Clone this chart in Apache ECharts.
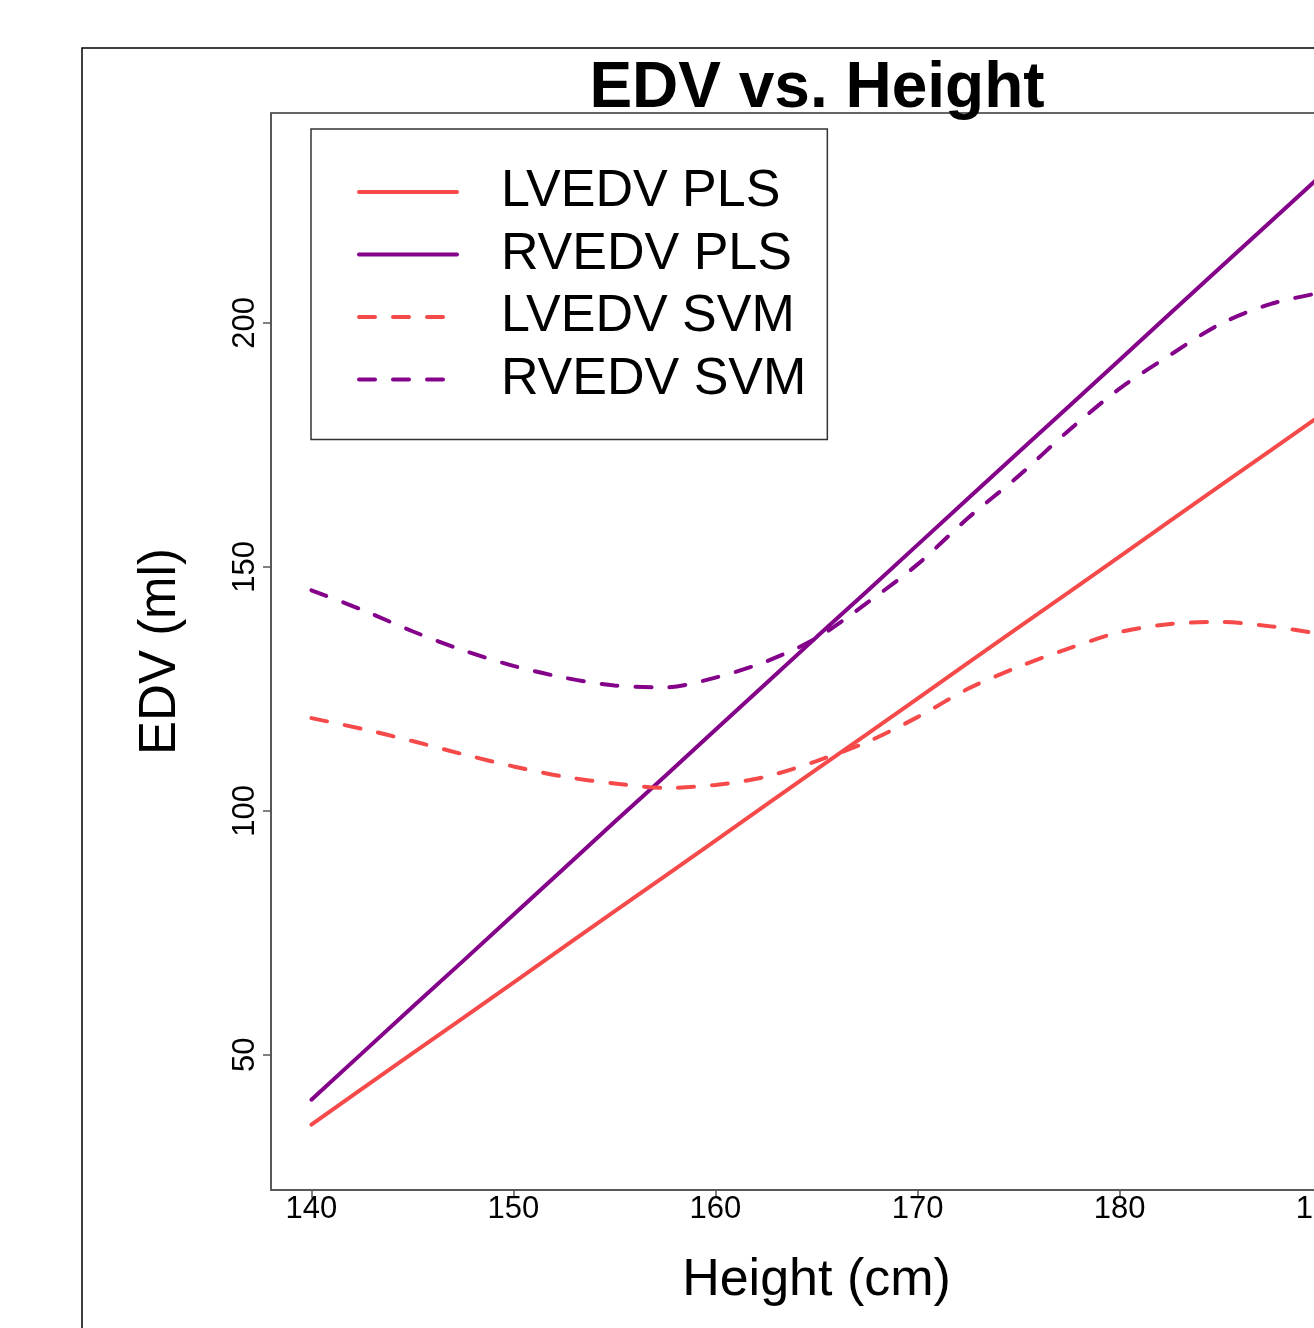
<!DOCTYPE html>
<html>
<head>
<meta charset="utf-8">
<script src="https://cdn.jsdelivr.net/npm/echarts@6/dist/echarts.min.js"></script>
<style>
  html, body { margin: 0; padding: 0; overflow: hidden; background: #fff; }
  #chart { width: 1634px; height: 1328px; }
</style>
</head>
<body>
<div id="chart"></div>
<script>
// 身高 (cm)
const heights = [140, 142.5, 145, 147.5, 150, 152.5, 155, 157.5, 160, 162.5, 165,
                 167.5, 170, 172.5, 175, 177.5, 180, 182.5, 185, 187.5, 190];

const lvedvPls = [35.7, 43.0, 50.3, 57.5, 64.8, 72.1, 79.4, 86.6, 93.9, 101.2, 108.5,
                  115.7, 123.0, 130.3, 137.6, 144.8, 152.1, 159.4, 166.7, 173.9, 181.2];
const rvedvPls = [40.8, 50.3, 59.8, 69.2, 78.7, 88.2, 97.7, 107.1, 116.6, 126.1, 135.6,
                  145.0, 154.5, 164.0, 173.5, 182.9, 192.4, 201.9, 211.4, 220.8, 230.3];
const lvedvSvm = [119.0, 116.8, 114.3, 111.6, 109.1, 107.0, 105.6, 104.7, 105.3, 107.0, 110.2,
                  114.1, 119.2, 125.0, 129.5, 133.3, 136.6, 138.3, 138.7, 137.8, 136.2];
const rvedvSvm = [145.2, 141.2, 136.8, 132.9, 129.7, 127.3, 125.7, 125.3, 127.3, 130.6, 135.4,
                  142.6, 150.5, 160.0, 168.6, 178.0, 186.5, 193.4, 199.8, 203.9, 206.2];

const xTicks = [140, 150, 160, 170, 180, 190];
const yTicks = [50, 100, 150, 200];

const RED = '#F64A4A';
const PURPLE = '#84028A';
const FONT = 'Liberation Sans';

const pairs = (ys) => heights.map((h, i) => [h, ys[i]]);

const makeSeries = (name, ys, color, dashed) => ({
    name,
    type: 'line',
    data: pairs(ys),
    symbol: 'none',
    smooth: dashed ? 0.3 : false,
    lineStyle: {
        color,
        width: 4,
        type: dashed ? [16, 18] : 'solid',
        cap: 'round'
    },
    itemStyle: { color },
    emphasis: { disabled: true }
});

const chart = echarts.init(document.getElementById('chart'), null, { renderer: 'canvas' });

chart.setOption({
    backgroundColor: '#fff',
    animation: false,
    title: {
        text: 'EDV vs. Height',
        left: 'center',
        top: 57,
        padding: 0,
        textStyle: { fontFamily: FONT, fontWeight: 'bold', fontSize: 64, color: '#000' }
    },
    // 外框
    graphic: [{
        type: 'rect',
        shape: { x: 82, y: 48, width: 1470, height: 1400 },
        style: { fill: 'none', stroke: '#000', lineWidth: 1.5 },
        silent: true
    }],
    legend: {
        orient: 'vertical',
        left: 311,
        top: 129,
        padding: [37, 21, 34, 46],
        itemWidth: 98,
        itemHeight: 50,
        itemGap: 10.5,
        borderColor: '#333',
        borderWidth: 1.5,
        itemStyle: { opacity: 0 },
        lineStyle: { width: 4 },
        textStyle: {
            fontFamily: FONT,
            fontSize: 52,
            color: '#000',
            lineHeight: 50,
            padding: [0, 0, 0, 39]
        },
        data: ['LVEDV PLS', 'RVEDV PLS', 'LVEDV SVM', 'RVEDV SVM']
    },
    grid: {
        left: 271,
        right: 272,
        top: 113,
        bottom: 138,
        show: true,
        borderColor: '#333',
        borderWidth: 1.5
    },
    xAxis: {
        type: 'value',
        min: 138,
        max: 192,
        name: 'Height (cm)',
        nameLocation: 'middle',
        nameGap: 65,
        nameTextStyle: { fontFamily: FONT, fontSize: 52, color: '#000' },
        axisLine: { show: true, onZero: false, lineStyle: { color: '#555', width: 1.5 } },
        axisTick: { show: true, length: 8, customValues: xTicks, lineStyle: { color: '#555', width: 1.5 } },
        axisLabel: { customValues: xTicks, margin: 4, fontFamily: FONT, fontSize: 31, color: '#000' },
        splitLine: { show: false }
    },
    yAxis: {
        type: 'value',
        min: 22.3,
        max: 243,
        name: 'EDV (ml)',
        nameLocation: 'middle',
        nameGap: 85,
        nameTextStyle: { fontFamily: FONT, fontSize: 51, color: '#000' },
        axisLine: { show: true, onZero: false, lineStyle: { color: '#555', width: 1.5 } },
        axisTick: { show: true, length: 8, customValues: yTicks, lineStyle: { color: '#555', width: 1.5 } },
        axisLabel: { customValues: yTicks, rotate: 90, margin: 10, fontFamily: FONT, fontSize: 31, color: '#000' },
        splitLine: { show: false }
    },
    series: [
        makeSeries('LVEDV PLS', lvedvPls, RED, false),
        makeSeries('RVEDV PLS', rvedvPls, PURPLE, false),
        makeSeries('LVEDV SVM', lvedvSvm, RED, true),
        makeSeries('RVEDV SVM', rvedvSvm, PURPLE, true)
    ]
});
</script>
</body>
</html>
